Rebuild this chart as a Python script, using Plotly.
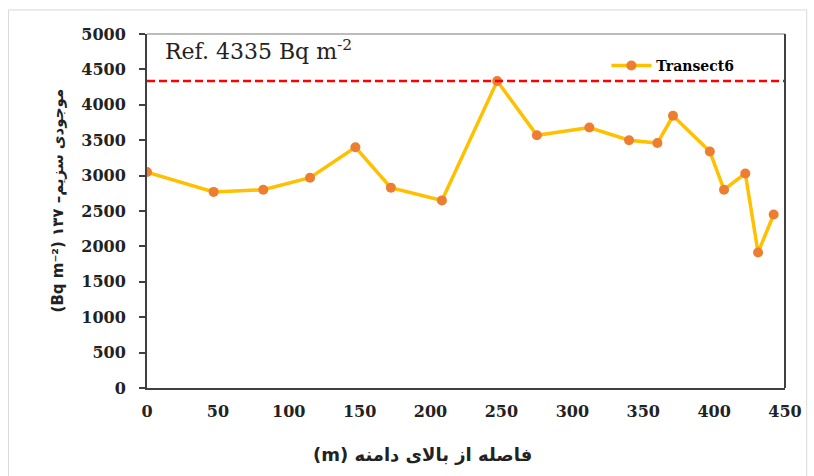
import plotly.graph_objects as go

# Distance from the top of the slope (m) and Cs-137 inventory (Bq m-2)
distance_m = [0, 47, 82, 115, 147, 172, 208, 247, 275, 312, 340, 360, 371, 397, 407, 422, 431, 442]
inventory = [3050, 2770, 2800, 2970, 3400, 2830, 2650, 4335, 3570, 3680, 3500, 3460, 3845, 3340, 2800, 3030, 1915, 2450]
reference_value = 4335
x_ticks = [0, 50, 100, 150, 200, 250, 300, 350, 400, 450]
y_ticks = list(range(0, 5001, 500))

serif = "DejaVu Serif, Liberation Serif, serif"
persian = "DejaVu Sans, Liberation Serif, sans-serif"

fig = go.Figure()

fig.add_trace(go.Scatter(
    x=distance_m, y=inventory, mode="lines+markers", name="<b>Transect6</b>",
    line=dict(color="#FFC000", width=3.5),
    marker=dict(color="#ED7D31", size=10),
))

# reference inventory line
fig.add_trace(go.Scatter(
    x=[0, 450], y=[reference_value, reference_value], mode="lines",
    line=dict(color="#FF0000", width=2.5, dash="8px,4px"), showlegend=False, hoverinfo="skip",
))

fig.update_layout(
    width=814, height=476,
    margin=dict(l=147, r=26, t=34, b=88),
    paper_bgcolor="white", plot_bgcolor="white",
    showlegend=True,
    legend=dict(x=0.72, y=0.91, xanchor="left", yanchor="middle",
                font=dict(family=serif, size=14, color="black"),
                bgcolor="rgba(0,0,0,0)", itemwidth=40),
    xaxis=dict(range=[0, 450], tickvals=x_ticks, ticktext=[f"<b>{v}</b>" for v in x_ticks],
               showgrid=False, zeroline=False,
               showline=True, linecolor="#404040", linewidth=2, ticks="",
               ticklabelstandoff=8,
               tickfont=dict(family=serif, size=16, color="#222")),
    yaxis=dict(range=[0, 5000], tickvals=y_ticks, ticktext=[f"<b>{v}</b>" for v in y_ticks],
               showgrid=False, zeroline=False,
               showline=True, linecolor="#404040", linewidth=2, ticks="outside",
               ticklen=6, tickwidth=1.5, tickcolor="#404040", ticklabelstandoff=10,
               tickfont=dict(family=serif, size=16, color="#222")),
    annotations=[
        dict(text="Ref. 4335 Bq m<sup>-2</sup>", xref="paper", yref="paper",
             x=0.025, y=0.955, xanchor="left", yanchor="middle", showarrow=False,
             font=dict(family=serif, size=22, color="#222")),
        dict(text="<b>(m) فاصله از بالای دامنه</b>", xref="paper", yref="paper",
             x=0.432, y=-0.189, xanchor="center", yanchor="middle", showarrow=False,
             font=dict(family=persian, size=18, color="#222")),
        dict(text="<b>(Bq m⁻²)\u200e ۱۳۷ –موجودی سزیم</b>", xref="paper", yref="paper",
             x=-0.1388, y=0.531, xanchor="center", yanchor="middle", showarrow=False,
             textangle=-90, font=dict(family=persian, size=15, color="#222")),
    ],
    shapes=[
        # top border of the plot area (light) and right border (dark)
        dict(type="line", xref="paper", yref="paper", x0=0, x1=1, y0=1, y1=1,
             line=dict(color="#a6a6a6", width=1.5)),
        dict(type="line", xref="paper", yref="paper", x0=1, x1=1, y0=0, y1=1,
             line=dict(color="#404040", width=2)),
        # outer chart frame
        dict(type="rect", xref="paper", yref="paper", x0=-0.217, x1=1.034, y0=-0.26, y1=1.068,
             line=dict(color="#d9d9d9", width=1)),
    ],
)

fig.write_html("out.html")
